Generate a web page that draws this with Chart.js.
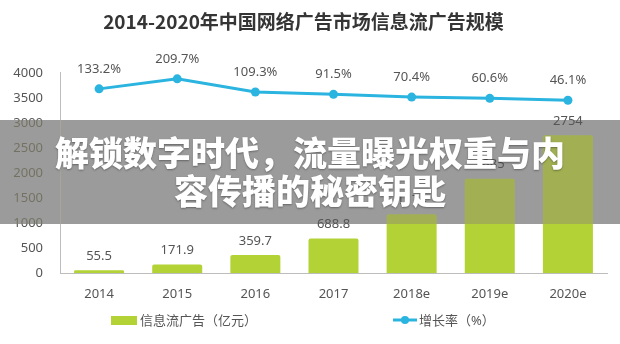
<!DOCTYPE html>
<html lang="zh-CN">
<head>
<meta charset="utf-8">
<title>2014-2020年中国网络广告市场信息流广告规模</title>
<script src="https://cdn.jsdelivr.net/npm/chart.js@4.4.1/dist/chart.umd.min.js"></script>
<style>
  html, body { margin: 0; padding: 0; background: #fff; }
  #wrap { position: relative; width: 620px; height: 344px; overflow: hidden; }
  #chart { display: block; }
  .banner {
    position: absolute; left: 0; top: 120px; width: 620px; height: 104px;
  }
  .banner-text {
    width: 525px; margin: 13px auto 0;
    color: #fff; text-align: center;
    font: 900 34px/38px 'Noto Sans CJK SC', sans-serif;
    text-shadow: 0 1px 2px rgba(0, 0, 0, 0.35);
  }
</style>
</head>
<body>
<div id="wrap">
  <canvas id="chart" width="620" height="344"></canvas>
  <div class="banner"><div class="banner-text">解锁数字时代，流量曝光权重与内容传播的秘密钥匙</div></div>
</div>
<script>
// Datos del gráfico
const years = ['2014', '2015', '2016', '2017', '2018e', '2019e', '2020e'];
const adRevenue = [55.5, 171.9, 359.7, 688.8, 1174, 1885, 2754];
const growthRate = [133.2, 209.7, 109.3, 91.5, 70.4, 60.6, 46.1];
const yTicks = [0, 500, 1000, 1500, 2000, 2500, 3000, 3500, 4000];

const FONT = "'Noto Sans', 'Noto Sans CJK SC', sans-serif";
const BAR_COLOR = '#b3d236';
const LINE_COLOR = '#2ab4df';
const TEXT_COLOR = '#555';

// Franja gris del titular: tiñe lo ya dibujado y pone el gris detrás
const bannerShade = {
    id: 'bannerShade',
    afterDatasetsDraw(chart) {
        const ctx = chart.ctx;
        ctx.save();
        ctx.beginPath();
        ctx.rect(0, 120, chart.width, 104);
        ctx.clip();
        ctx.globalCompositeOperation = 'source-atop';
        ctx.fillStyle = 'rgba(146, 144, 112, 0.5)';
        ctx.fillRect(0, 120, chart.width, 104);
        ctx.globalCompositeOperation = 'destination-over';
        ctx.fillStyle = '#9b9b9b';
        ctx.fillRect(0, 120, chart.width, 104);
        ctx.restore();
    }
};

// Etiquetas de valor encima de barras y puntos
const valueLabels = {
    id: 'valueLabels',
    afterDatasetsDraw(chart) {
        const ctx = chart.ctx;
        ctx.save();
        ctx.font = '13px ' + FONT;
        ctx.fillStyle = TEXT_COLOR;
        ctx.textAlign = 'center';
        ctx.textBaseline = 'middle';
        chart.data.datasets.forEach((ds, i) => {
            const meta = chart.getDatasetMeta(i);
            meta.data.forEach((el, j) => {
                const isLine = ds.type === 'line';
                const txt = isLine ? ds.data[j].toFixed(1) + '%' : String(ds.data[j]);
                ctx.fillText(txt, el.x, el.y - (isLine ? 20 : 14));
            });
        });
        ctx.restore();
    }
};

// Leyenda dibujada a mano (dos elementos muy separados)
const bottomLegend = {
    id: 'bottomLegend',
    afterDraw(chart) {
        const ctx = chart.ctx;
        const bar = chart.data.datasets[1];
        const line = chart.data.datasets[0];
        const y = 320;
        ctx.save();
        ctx.font = '13px ' + FONT;
        ctx.textBaseline = 'middle';

        ctx.fillStyle = bar.backgroundColor;
        ctx.fillRect(111, y - 4, 26, 9);
        ctx.fillStyle = TEXT_COLOR;
        ctx.fillText(bar.label, 140, y + 1);

        ctx.strokeStyle = line.borderColor;
        ctx.lineWidth = 3;
        ctx.beginPath();
        ctx.moveTo(393, y);
        ctx.lineTo(417, y);
        ctx.stroke();
        ctx.fillStyle = line.borderColor;
        ctx.beginPath();
        ctx.arc(405, y, 4, 0, Math.PI * 2);
        ctx.fill();
        ctx.fillStyle = TEXT_COLOR;
        ctx.fillText(line.label, 419, y + 1);
        ctx.restore();
    }
};

new Chart(document.getElementById('chart'), {
    data: {
        labels: years,
        datasets: [
            {
                type: 'line',
                label: '增长率（%）',
                data: growthRate,
                yAxisID: 'yRate',
                borderColor: LINE_COLOR,
                backgroundColor: LINE_COLOR,
                borderWidth: 3,
                pointRadius: 4.5,
                pointBackgroundColor: LINE_COLOR,
                pointBorderWidth: 0,
                tension: 0,
                order: 1
            },
            {
                type: 'bar',
                label: '信息流广告（亿元）',
                data: adRevenue,
                yAxisID: 'y',
                backgroundColor: BAR_COLOR,
                borderRadius: 2,
                borderSkipped: 'bottom',
                categoryPercentage: 0.8,
                barPercentage: 0.8,
                order: 2
            }
        ]
    },
    options: {
        responsive: false,
        animation: false,
        layout: { padding: { left: 0, right: 13, top: 0, bottom: 0 } },
        plugins: {
            legend: { display: false },
            tooltip: { enabled: false },
            title: {
                display: true,
                text: '2014-2020年中国网络广告市场信息流广告规模',
                color: '#353535',
                font: { family: "'Noto Sans CJK SC', sans-serif", size: 19, weight: 'bold' },
                padding: { top: 10, bottom: 40 }
            }
        },
        scales: {
            x: {
                grid: { display: false, drawTicks: false },
                border: { display: true, color: '#bdbdbd', width: 1 },
                ticks: { color: TEXT_COLOR, font: { family: FONT, size: 13 }, padding: 13 },
                afterFit(scale) { scale.height = 71; }
            },
            y: {
                min: yTicks[0],
                max: yTicks[yTicks.length - 1],
                grid: { display: false, drawTicks: false },
                border: { display: true, color: '#bdbdbd', width: 1 },
                ticks: {
                    color: TEXT_COLOR,
                    font: { family: FONT, size: 13 },
                    padding: 17,
                    callback: v => String(v)
                },
                afterBuildTicks(scale) { scale.ticks = yTicks.map(v => ({ value: v })); },
                afterFit(scale) { scale.width = 60; }
            },
            yRate: {
                display: false,
                min: -1274,
                max: 256
            }
        }
    },
    plugins: [bannerShade, valueLabels, bottomLegend]
});
</script>
</body>
</html>
